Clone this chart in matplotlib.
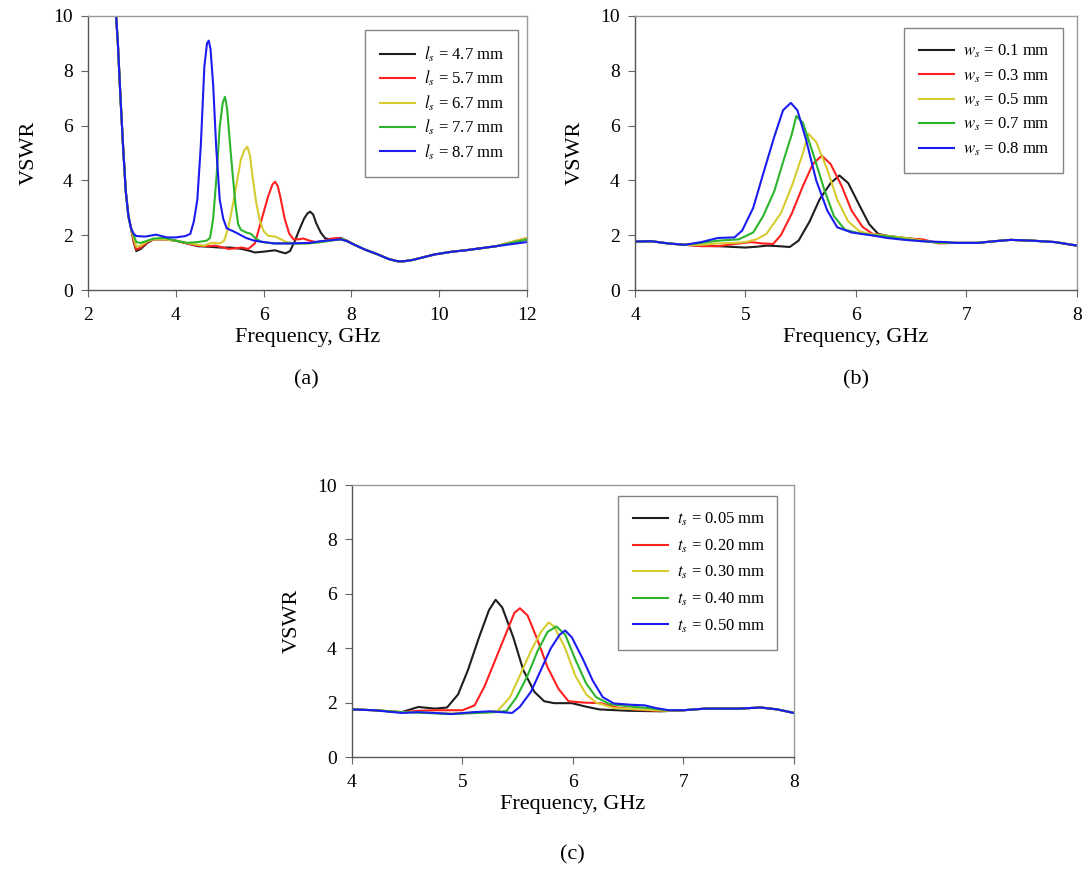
import matplotlib
matplotlib.use("Agg")
import matplotlib.pyplot as plt

plt.rcParams['font.family'] = ['Liberation Serif', 'DejaVu Serif']
plt.rcParams['mathtext.fontset'] = 'stix'

colors = ['#1e1e1e', '#ff2020', '#d6cc30', '#2cb52c', '#1c1cf0']

# ---- (a) slot length l_s, 2-12 GHz ----
a_labels = [r'$l_s$ = 4.7 mm', r'$l_s$ = 5.7 mm', r'$l_s$ = 6.7 mm',
            r'$l_s$ = 7.7 mm', r'$l_s$ = 8.7 mm']

a_f_47 = [2.62, 2.68, 2.74, 2.80, 2.86, 2.92, 2.98, 3.04, 3.1, 3.2, 3.35, 3.5, 3.75, 4.0, 4.25, 4.5,
          4.75, 5.0, 5.25, 5.5, 5.7, 5.8, 6.0, 6.26, 6.4, 6.5, 6.6, 6.7, 6.81, 6.92, 7.0, 7.06, 7.13,
          7.2, 7.3, 7.4, 7.56, 7.75, 7.9, 8.07, 8.3, 8.6, 8.85, 9.05, 9.2, 9.4, 9.9, 10.3, 10.6, 11.3, 12.0]
a_v_47 = [10.5, 9.0, 7.0, 5.2, 3.6, 2.7, 2.25, 1.75, 1.42, 1.5, 1.72, 1.85, 1.85, 1.8, 1.7, 1.6,
          1.58, 1.55, 1.55, 1.5, 1.42, 1.37, 1.4, 1.45, 1.38, 1.34, 1.42, 1.75, 2.19, 2.6, 2.8, 2.86, 2.75,
          2.43, 2.1, 1.89, 1.82, 1.9, 1.8, 1.65, 1.48, 1.3, 1.13, 1.05, 1.05, 1.1, 1.3, 1.4, 1.45, 1.6, 1.85]

a_f_57 = [2.62, 2.68, 2.74, 2.80, 2.86, 2.92, 2.98, 3.04, 3.1, 3.2, 3.35, 3.5, 3.75, 4.0, 4.25, 4.5,
          4.75, 4.9, 5.0, 5.2, 5.35, 5.5, 5.65, 5.8, 5.95, 6.1, 6.2, 6.26, 6.32, 6.38, 6.48, 6.58, 6.68,
          6.8, 6.9, 7.05, 7.2, 7.4, 7.55, 7.7, 7.9, 8.07, 8.3, 8.6, 8.85, 9.05, 9.2, 9.4, 9.9, 10.3, 10.6,
          11.3, 12.0]
a_v_57 = [10.5, 9.0, 7.0, 5.2, 3.6, 2.7, 2.25, 1.8, 1.48, 1.55, 1.75, 1.85, 1.85, 1.8, 1.7, 1.62,
          1.6, 1.62, 1.58, 1.5, 1.52, 1.55, 1.5, 1.7, 2.55, 3.4, 3.85, 3.95, 3.8, 3.4, 2.6, 2.07, 1.85,
          1.85, 1.88, 1.8, 1.75, 1.8, 1.88, 1.9, 1.8, 1.65, 1.48, 1.3, 1.13, 1.05, 1.05, 1.1, 1.3, 1.4, 1.45,
          1.6, 1.9]

a_f_67 = [2.62, 2.68, 2.74, 2.80, 2.86, 2.92, 2.98, 3.04, 3.1, 3.2, 3.35, 3.5, 3.75, 4.0, 4.25, 4.5,
          4.65, 4.8, 4.9, 5.0, 5.1, 5.2, 5.32, 5.48, 5.56, 5.63, 5.69, 5.75, 5.83, 5.91, 6.0, 6.1, 6.26,
          6.4, 6.5, 6.7, 7.0, 7.3, 7.6, 7.8, 7.9, 8.07, 8.3, 8.6, 8.85, 9.05, 9.2, 9.4, 9.9, 10.3, 10.6,
          11.3, 12.0]
a_v_67 = [10.5, 9.0, 7.0, 5.2, 3.6, 2.7, 2.25, 1.9, 1.58, 1.62, 1.78, 1.85, 1.85, 1.8, 1.72, 1.65,
          1.62, 1.72, 1.72, 1.7, 1.8, 2.3, 3.3, 4.75, 5.1, 5.23, 4.9, 4.1, 3.2, 2.55, 2.15, 1.98, 1.95,
          1.85, 1.76, 1.7, 1.7, 1.75, 1.82, 1.85, 1.78, 1.65, 1.48, 1.3, 1.13, 1.05, 1.05, 1.1, 1.3, 1.4, 1.45,
          1.6, 1.9]

a_f_77 = [2.62, 2.68, 2.74, 2.80, 2.86, 2.92, 2.98, 3.04, 3.1, 3.2, 3.35, 3.5, 3.75, 4.0, 4.25, 4.5,
          4.7, 4.78, 4.85, 4.93, 5.0, 5.07, 5.12, 5.17, 5.22, 5.29, 5.36, 5.42, 5.48, 5.6, 5.71, 5.82,
          5.95, 6.2, 6.5, 7.0, 7.3, 7.6, 7.8, 7.9, 8.07, 8.3, 8.6, 8.85, 9.05, 9.2, 9.4, 9.9, 10.3, 10.6,
          11.3, 12.0]
a_v_77 = [10.5, 9.0, 7.0, 5.2, 3.6, 2.7, 2.25, 2.0, 1.75, 1.72, 1.8, 1.88, 1.9, 1.8, 1.72, 1.75,
          1.8, 1.9, 2.6, 4.2, 5.96, 6.85, 7.05, 6.6, 5.6, 4.3, 3.1, 2.4, 2.2, 2.1, 2.05, 1.88,
          1.76, 1.7, 1.7, 1.7, 1.75, 1.82, 1.85, 1.78, 1.65, 1.48, 1.3, 1.13, 1.05, 1.05, 1.1, 1.3, 1.4, 1.45,
          1.6, 1.85]

a_f_87 = [2.62, 2.68, 2.74, 2.80, 2.86, 2.92, 2.98, 3.04, 3.1, 3.3, 3.55, 3.8, 4.0, 4.22, 4.33, 4.41,
          4.49, 4.57, 4.65, 4.71, 4.75, 4.79, 4.85, 4.92, 5.0, 5.08, 5.16, 5.3, 5.4, 5.6, 5.79, 6.0,
          6.26, 6.6, 7.05, 7.3, 7.55, 7.75, 7.9, 8.07, 8.3, 8.6, 8.85, 9.05, 9.2, 9.4, 9.9, 10.3, 10.6,
          11.3, 12.0]
a_v_87 = [10.5, 9.0, 7.0, 5.2, 3.6, 2.7, 2.25, 2.05, 1.97, 1.95, 2.02, 1.92, 1.92, 1.97, 2.05, 2.5,
          3.3, 5.3, 8.15, 9.0, 9.1, 8.8, 7.5, 5.2, 3.3, 2.6, 2.25, 2.15, 2.07, 1.9, 1.8, 1.75,
          1.7, 1.7, 1.72, 1.78, 1.82, 1.85, 1.78, 1.65, 1.48, 1.3, 1.13, 1.05, 1.05, 1.1, 1.3, 1.4, 1.45,
          1.6, 1.75]

# ---- (b) slot width w_s, 4-8 GHz ----
b_labels = [r'$w_s$ = 0.1 mm', r'$w_s$ = 0.3 mm', r'$w_s$ = 0.5 mm',
            r'$w_s$ = 0.7 mm', r'$w_s$ = 0.8 mm']

b_f_01 = [4.0, 4.15, 4.3, 4.45, 4.6, 4.75, 5.0, 5.1, 5.2, 5.3, 5.4, 5.48, 5.58, 5.67, 5.77, 5.85,
          5.93, 6.03, 6.12, 6.2, 6.28, 6.4, 6.55, 6.7, 6.9, 7.1, 7.25, 7.4, 7.6, 7.8, 8.0]
b_v_01 = [1.77, 1.78, 1.7, 1.65, 1.62, 1.6, 1.55, 1.58, 1.62, 1.6, 1.57, 1.8, 2.5, 3.3, 3.9, 4.18,
          3.9, 3.1, 2.4, 2.05, 1.98, 1.92, 1.85, 1.75, 1.72, 1.72, 1.78, 1.83, 1.8, 1.75, 1.62]

b_f_03 = [4.0, 4.15, 4.3, 4.45, 4.6, 4.75, 4.9, 5.05, 5.15, 5.25, 5.32, 5.42, 5.52, 5.61, 5.69, 5.77,
          5.87, 5.96, 6.06, 6.15, 6.3, 6.45, 6.6, 6.75, 6.9, 7.1, 7.25, 7.4, 7.6, 7.8, 8.0]
b_v_03 = [1.77, 1.78, 1.7, 1.65, 1.6, 1.6, 1.68, 1.75, 1.7, 1.68, 2.0, 2.8, 3.8, 4.6, 4.9, 4.6,
          3.8, 2.9, 2.3, 2.05, 1.95, 1.88, 1.85, 1.7, 1.72, 1.72, 1.78, 1.83, 1.8, 1.75, 1.62]

b_f_05 = [4.0, 4.15, 4.3, 4.45, 4.6, 4.75, 4.9, 5.0, 5.1, 5.19, 5.32, 5.42, 5.52, 5.57, 5.64, 5.74,
          5.83, 5.93, 6.03, 6.12, 6.3, 6.45, 6.6, 6.75, 6.9, 7.1, 7.25, 7.4, 7.6, 7.8, 8.0]
b_v_05 = [1.77, 1.78, 1.7, 1.65, 1.65, 1.7, 1.72, 1.75, 1.85, 2.05, 2.8, 3.8, 5.0, 5.7, 5.4, 4.4,
          3.3, 2.5, 2.15, 2.05, 1.97, 1.9, 1.8, 1.72, 1.72, 1.72, 1.78, 1.83, 1.8, 1.75, 1.62]

b_f_07 = [4.0, 4.15, 4.3, 4.45, 4.6, 4.75, 4.94, 5.07, 5.16, 5.26, 5.35, 5.42, 5.46, 5.52, 5.61, 5.71,
          5.8, 5.9, 6.03, 6.15, 6.3, 6.45, 6.6, 6.75, 6.9, 7.1, 7.25, 7.4, 7.6, 7.8, 8.0]
b_v_07 = [1.77, 1.78, 1.7, 1.65, 1.72, 1.8, 1.85, 2.1, 2.7, 3.6, 4.8, 5.7, 6.35, 6.1, 5.0, 3.7,
          2.7, 2.2, 2.07, 2.0, 1.95, 1.85, 1.78, 1.73, 1.72, 1.72, 1.78, 1.83, 1.8, 1.75, 1.62]

b_f_08 = [4.0, 4.15, 4.3, 4.45, 4.6, 4.75, 4.9, 4.97, 5.07, 5.16, 5.26, 5.34, 5.41, 5.47, 5.55, 5.64,
          5.74, 5.83, 5.96, 6.15, 6.28, 6.44, 6.6, 6.8, 6.9, 7.1, 7.25, 7.4, 7.6, 7.8, 8.0]
b_v_08 = [1.77, 1.78, 1.7, 1.65, 1.75, 1.9, 1.92, 2.17, 3.0, 4.24, 5.59, 6.56, 6.83, 6.56, 5.46, 4.0,
          2.9, 2.29, 2.1, 1.99, 1.9, 1.83, 1.78, 1.75, 1.72, 1.72, 1.78, 1.83, 1.8, 1.75, 1.62]

# ---- (c) slot thickness t_s, 4-8 GHz ----
c_labels = [r'$t_s$ = 0.05 mm', r'$t_s$ = 0.20 mm', r'$t_s$ = 0.30 mm',
            r'$t_s$ = 0.40 mm', r'$t_s$ = 0.50 mm']

c_f_005 = [4.0, 4.2, 4.45, 4.6, 4.75, 4.86, 4.96, 5.05, 5.15, 5.24, 5.3, 5.36, 5.46, 5.55, 5.65, 5.74,
           5.83, 5.99, 6.12, 6.24, 6.5, 6.8, 7.0, 7.2, 7.5, 7.7, 7.85, 8.0]
c_v_005 = [1.75, 1.72, 1.65, 1.84, 1.78, 1.82, 2.3, 3.2, 4.4, 5.4, 5.78, 5.5, 4.4, 3.2, 2.4, 2.05,
           1.98, 1.98, 1.85, 1.75, 1.7, 1.68, 1.72, 1.78, 1.78, 1.82, 1.75, 1.62]

c_f_020 = [4.0, 4.2, 4.45, 4.6, 4.75, 5.0, 5.11, 5.2, 5.3, 5.4, 5.47, 5.52, 5.59, 5.68, 5.77, 5.87,
           5.96, 6.1, 6.25, 6.4, 6.55, 6.75, 7.0, 7.2, 7.5, 7.7, 7.85, 8.0]
c_v_020 = [1.75, 1.72, 1.65, 1.7, 1.72, 1.72, 1.9, 2.6, 3.6, 4.6, 5.3, 5.47, 5.2, 4.3, 3.3, 2.5,
           2.05, 2.0, 1.98, 1.82, 1.75, 1.7, 1.72, 1.78, 1.78, 1.82, 1.75, 1.62]

c_f_030 = [4.0, 4.2, 4.45, 4.6, 4.9, 5.2, 5.32, 5.43, 5.52, 5.62, 5.71, 5.78, 5.83, 5.93, 6.02, 6.12,
           6.21, 6.37, 6.6, 6.85, 7.0, 7.2, 7.5, 7.7, 7.85, 8.0]
c_v_030 = [1.75, 1.72, 1.65, 1.65, 1.6, 1.65, 1.7, 2.2, 3.0, 3.9, 4.6, 4.95, 4.8, 4.0, 3.0, 2.3,
           2.0, 1.8, 1.75, 1.7, 1.72, 1.78, 1.78, 1.82, 1.75, 1.62]

c_f_040 = [4.0, 4.2, 4.45, 4.6, 4.9, 5.15, 5.3, 5.4, 5.49, 5.59, 5.68, 5.77, 5.85, 5.93, 6.02, 6.12,
           6.21, 6.33, 6.53, 6.68, 6.85, 7.0, 7.2, 7.5, 7.7, 7.85, 8.0]
c_v_040 = [1.75, 1.72, 1.65, 1.63, 1.58, 1.62, 1.65, 1.7, 2.2, 3.0, 3.9, 4.6, 4.8, 4.5, 3.6, 2.7,
           2.2, 1.95, 1.85, 1.8, 1.72, 1.72, 1.78, 1.78, 1.82, 1.75, 1.62]

c_f_050 = [4.0, 4.2, 4.45, 4.6, 4.75, 4.9, 5.1, 5.25, 5.35, 5.45, 5.52, 5.62, 5.71, 5.8, 5.88, 5.93,
           5.99, 6.09, 6.18, 6.27, 6.37, 6.53, 6.65, 6.75, 6.87, 7.0, 7.2, 7.5, 7.7, 7.85, 8.0]
c_v_050 = [1.75, 1.72, 1.62, 1.65, 1.62, 1.58, 1.65, 1.68, 1.65, 1.62, 1.85, 2.4, 3.2, 4.0, 4.5, 4.65,
           4.4, 3.6, 2.8, 2.2, 1.97, 1.92, 1.9, 1.8, 1.72, 1.72, 1.78, 1.78, 1.82, 1.75, 1.62]


def draw_panel(ax, series, labels, xlim, xticks, legend_box, row_gap):
    for (f, v), lab, c in zip(series, labels, colors):
        ax.plot(f, v, color=c, lw=1.5, label=lab)
    ax.set_xlim(*xlim)
    ax.set_ylim(0, 10)
    ax.set_xticks(xticks)
    ax.set_yticks(range(0, 11, 2))
    ax.tick_params(axis='both', labelsize=14, direction='out', length=5, width=0.8, color='#666666')
    ax.tick_params(axis='x', pad=7)
    ax.tick_params(axis='y', pad=6)
    for side in ('left', 'bottom'):
        ax.spines[side].set_color('#555555')
        ax.spines[side].set_linewidth(1.0)
    for side in ('top', 'right'):
        ax.spines[side].set_color('#9a9a9a')
        ax.spines[side].set_linewidth(1.0)
    ax.set_xlabel('Frequency, GHz', fontsize=16)
    ax.xaxis.set_label_coords(0.5, -0.175)
    ax.xaxis.label.set_va('center')
    ax.set_ylabel('VSWR', fontsize=16)
    ax.yaxis.set_label_coords(-0.135, 0.5)
    ax.yaxis.label.set_va('center')
    # legend_box is (x0, y0, width, height) in axes fractions
    leg = ax.legend(loc='upper left', bbox_to_anchor=legend_box, mode='expand',
                    fontsize=12, frameon=True, fancybox=False, handlelength=2.1,
                    handletextpad=0.55, labelspacing=row_gap, borderaxespad=0, borderpad=0.9)
    leg.get_frame().set_edgecolor('#666666')
    leg.get_frame().set_linewidth(1.0)


fig = plt.figure(figsize=(10.84, 8.88), dpi=100)

ax_a = fig.add_axes([0.0812, 0.6734, 0.405, 0.3086])
draw_panel(ax_a,
           [(a_f_47, a_v_47), (a_f_57, a_v_57), (a_f_67, a_v_67), (a_f_77, a_v_77), (a_f_87, a_v_87)],
           a_labels, (2, 12), range(2, 13, 2), (0.631, 0.42, 0.349, 0.53), 0.3)

ax_b = fig.add_axes([0.5858, 0.6734, 0.4077, 0.3086])
draw_panel(ax_b,
           [(b_f_01, b_v_01), (b_f_03, b_v_03), (b_f_05, b_v_05), (b_f_07, b_v_07), (b_f_08, b_v_08)],
           b_labels, (4, 8), range(4, 9), (0.608, 0.424, 0.36, 0.533), 0.42)

ax_c = fig.add_axes([0.3247, 0.1475, 0.4077, 0.3063])
draw_panel(ax_c,
           [(c_f_005, c_v_005), (c_f_020, c_v_020), (c_f_030, c_v_030), (c_f_040, c_v_040),
            (c_f_050, c_v_050)],
           c_labels, (4, 8), range(4, 9), (0.602, 0.373, 0.36, 0.587), 0.55)

fig.text(306 / 1084, 1 - 380 / 888, '(a)', ha='center', va='center', fontsize=16)
fig.text(856 / 1084, 1 - 380 / 888, '(b)', ha='center', va='center', fontsize=16)
fig.text(572 / 1084, 1 - 855 / 888, '(c)', ha='center', va='center', fontsize=16)

fig.savefig('out.png', dpi=100)
